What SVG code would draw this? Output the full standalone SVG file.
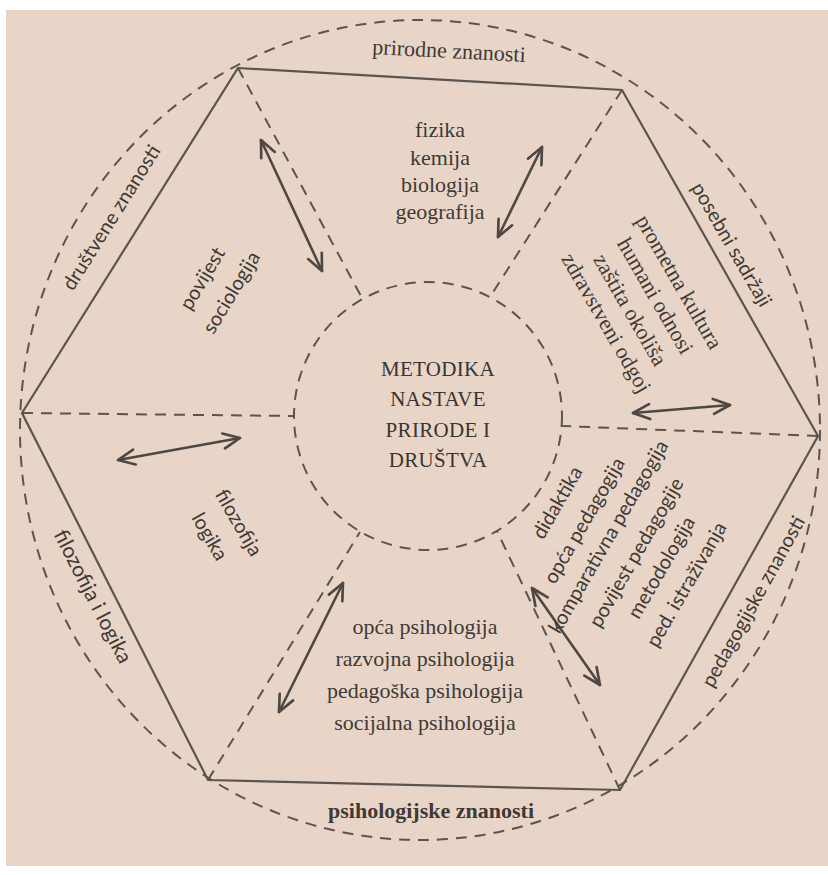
<svg xmlns="http://www.w3.org/2000/svg" width="828" height="875" viewBox="0 0 828 875">
<style>
.line{fill:none;stroke:#5c5450;stroke-width:2.2}
.dash{fill:none;stroke:#5c5450;stroke-width:2;stroke-dasharray:11 8}
.arr{fill:none;stroke:#4e4744;stroke-width:2.6;stroke-linecap:round;marker-start:url(#ah);marker-end:url(#ah)}
.serif{font-family:"Liberation Serif","DejaVu Serif",serif;font-size:22px;fill:#3f3935;text-anchor:middle}
.sans{font-family:Lato,"Open Sans","Liberation Sans",sans-serif;font-size:20px;fill:#3f3935;text-anchor:middle}
.title{font-family:"Liberation Serif","DejaVu Serif",serif;font-size:21px;fill:#3a3431;text-anchor:middle;letter-spacing:0.3px}
</style>
<defs>
<marker id="ah" viewBox="0 0 12 12" refX="11" refY="6" markerWidth="20" markerHeight="20" markerUnits="userSpaceOnUse" orient="auto-start-reverse">
<path d="M1,1.5 L11,6 L1,10.5" fill="none" stroke="#4e4744" stroke-width="1.6" stroke-linecap="round" stroke-linejoin="round"/>
</marker>
</defs>
<rect x="0" y="0" width="828" height="875" fill="#ffffff"/>
<rect x="6" y="10" width="822" height="856" fill="#e8d5c8"/>

<g id="frame">
<ellipse class="dash" cx="420" cy="430" rx="400" ry="410"/>
<polygon class="line" points="238,68 622,90 818,436 620,790 208,780 22,413"/>
<circle class="dash" cx="428" cy="416" r="134"/>
<line class="dash" x1="238" y1="68" x2="362" y2="298"/>
<line class="dash" x1="622" y1="90" x2="490" y2="297"/>
<line class="dash" x1="818" y1="436" x2="562" y2="426"/>
<line class="dash" x1="620" y1="790" x2="497" y2="531"/>
<line class="dash" x1="208" y1="780" x2="360" y2="532"/>
<line class="dash" x1="22" y1="413" x2="294" y2="416"/>
</g>

<g id="connectors">
<line class="arr" x1="498" y1="237" x2="542" y2="147"/>
<line class="arr" x1="261" y1="140" x2="322" y2="271"/>
<line class="arr" x1="633" y1="413" x2="730" y2="405"/>
<line class="arr" x1="118" y1="460" x2="240" y2="438"/>
<line class="arr" x1="343" y1="583" x2="279" y2="712"/>
<line class="arr" x1="532" y1="588" x2="600" y2="685"/>
</g>

<g id="center">
<text class="title" x="438" y="376">METODIKA</text>
<text class="title" x="438" y="406">NASTAVE</text>
<text class="title" x="438" y="437">PRIRODE I</text>
<text class="title" x="438" y="467">DRUŠTVA</text>
</g>

<g id="prirodne-znanosti">
<text class="serif" x="449" y="58" transform="rotate(3 449 52)">prirodne znanosti</text>
<text class="serif" x="440" y="137">fizika</text>
<text class="serif" x="440" y="165">kemija</text>
<text class="serif" x="440" y="192">biologija</text>
<text class="serif" x="440" y="219">geografija</text>
</g>

<g id="posebni-sadrzaji">
<text class="sans" transform="translate(731 245) rotate(60)" y="6">posebni sadržaji</text>
<text class="serif" transform="translate(679 282) rotate(60)" y="7">prometna kultura</text>
<text class="serif" transform="translate(655 296) rotate(60)" y="7">humani odnosi</text>
<text class="serif" transform="translate(630 310) rotate(60)" y="7">zaštita okoliša</text>
<text class="serif" transform="translate(606 323) rotate(60)" y="7">zdravstveni odgoj</text>
</g>

<g id="drustvene-znanosti">
<text class="sans" transform="translate(112 218) rotate(-58)" y="6">društvene znanosti</text>
<text class="sans" transform="translate(203 279) rotate(-59)" y="6">povijest</text>
<text class="sans" transform="translate(232 293) rotate(-59)" y="6">sociologija</text>
</g>

<g id="filozofija-i-logika">
<text class="sans" transform="translate(92 597) rotate(63)" y="6" style="font-size:21px">filozofija i logika</text>
<text class="sans" transform="translate(238 523) rotate(60)" y="6">filozofija</text>
<text class="sans" transform="translate(209 537) rotate(60)" y="6">logika</text>
</g>

<g id="psihologijske-znanosti">
<text class="serif" x="425" y="634">opća psihologija</text>
<text class="serif" x="425" y="666">razvojna psihologija</text>
<text class="serif" x="425" y="698">pedagoška psihologija</text>
<text class="serif" x="425" y="730">socijalna psihologija</text>
<text class="serif" x="431" y="818" font-weight="bold">psihologijske znanosti</text>
</g>

<g id="pedagogijske-znanosti">
<text class="sans" transform="translate(754 602) rotate(-61)" y="6">pedagogijske znanosti</text>
<text class="sans" transform="translate(558 503) rotate(-60)" y="6">didaktika</text>
<text class="sans" transform="translate(585 521) rotate(-60)" y="6">opća pedagogija</text>
<text class="sans" transform="translate(609 537) rotate(-60)" y="6">komparativna pedagogija</text>
<text class="sans" transform="translate(637 553) rotate(-60)" y="6">povijest pedagogije</text>
<text class="sans" transform="translate(662 568) rotate(-60)" y="6">metodologija</text>
<text class="sans" transform="translate(687 585) rotate(-60)" y="6">ped. istraživanja</text>
</g>
</svg>
